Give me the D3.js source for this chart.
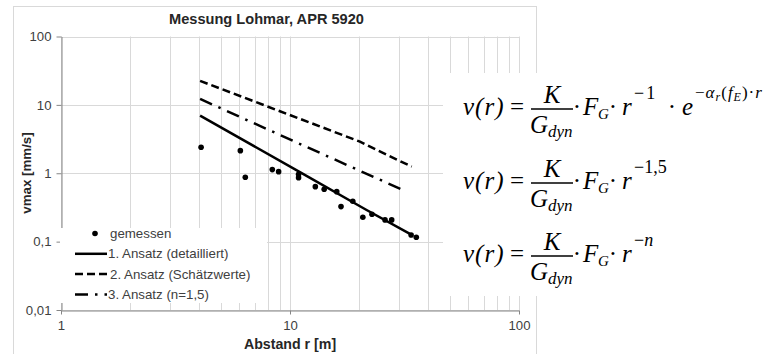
<!DOCTYPE html>
<html>
<head>
<meta charset="utf-8">
<script src="https://cdn.jsdelivr.net/npm/d3@7/dist/d3.min.js"></script>
<style>
  body { margin: 0; background: #fff; }
  svg { display: block; font-family: "Liberation Sans", Arial, sans-serif; }
</style>
</head>
<body>
<svg id="chart" width="766" height="354"></svg>
<script>
// gemessene Werte (Abstand r [m], vmax [mm/s])
const messAbstand = [4.09, 6.07, 6.38, 8.37, 8.92, 10.9, 10.9, 12.9, 14.1, 16.0, 16.7, 18.8, 20.8, 22.8, 26.0, 27.8, 33.8, 35.6];
const messWert = [2.40, 2.14, 0.874, 1.13, 1.055, 0.967, 0.862, 0.637, 0.583, 0.538, 0.325, 0.390, 0.227, 0.252, 0.208, 0.208, 0.125, 0.116];

// 1. Ansatz (detailliert)
const ansatz1Abstand = [4.05, 11, 21.6, 33.4];
const ansatz1Wert = [6.95, 1.05, 0.29, 0.130];

// 2. Ansatz (Schätzwerte)
const ansatz2Abstand = [4.05, 8.75, 20.2, 23.9, 34.0];
const ansatz2Wert = [22.4, 8.42, 2.90, 2.19, 1.25];

// 3. Ansatz (n=1,5)
const ansatz3Abstand = [4.05, 10.87, 31.8];
const ansatz3Wert = [12.2, 2.75, 0.55];

const xTicks = [1, 10, 100];
const yTicks = [0.01, 0.1, 1, 10, 100];
const yTickLabels = ['0,01', '0,1', '1', '10', '100'];

const legendLabels = ['gemessen', '1. Ansatz (detailliert)', '2. Ansatz (Schätzwerte)', '3. Ansatz (n=1,5)'];

const svg = d3.select('#chart');

// Diagrammrahmen
svg.append('rect')
  .attr('x', 13.5).attr('y', 6.5)
  .attr('width', 523).attr('height', 360)
  .attr('fill', '#fff')
  .attr('stroke', '#d9d9d9');

const x = d3.scaleLog().domain([1, 100]).range([61, 519]);
const y = d3.scaleLog().domain([0.01, 100]).range([310, 36.5]);

const grid = svg.append('g').attr('stroke', '#d9d9d9').attr('stroke-width', 1);

grid.selectAll('.vgrid')
  .data(x.ticks())
  .enter()
  .append('line')
  .attr('x1', (d) => Math.round(x(d)) + 0.5)
  .attr('x2', (d) => Math.round(x(d)) + 0.5)
  .attr('y1', y(100))
  .attr('y2', y(0.01));

grid.selectAll('.hgrid')
  .data(yTicks)
  .enter()
  .append('line')
  .attr('x1', x(1))
  .attr('x2', x(100))
  .attr('y1', (d) => Math.round(y(d)) + 0.5)
  .attr('y2', (d) => Math.round(y(d)) + 0.5);

// Achsen
const xAxis = svg.append('g')
  .attr('transform', `translate(0,${Math.round(y(0.01)) + 0.5})`)
  .call(d3.axisBottom(x).tickValues(xTicks).tickFormat(d3.format('d')).tickSize(4).tickSizeOuter(0).tickPadding(6));

const yAxis = svg.append('g')
  .attr('transform', `translate(${Math.round(x(1)) + 0.5},0)`)
  .call(d3.axisLeft(y).tickValues(yTicks).tickFormat((d, i) => yTickLabels[i]).tickSize(5).tickSizeOuter(0).tickPadding(5));

[xAxis, yAxis].forEach((a) => {
  a.select('.domain').attr('stroke', '#868686');
  a.selectAll('.tick line').attr('stroke', '#868686');
  a.selectAll('.tick text')
    .attr('fill', '#404040')
    .style('font-size', '13.2px')
    .style('font-family', '"Liberation Sans", Arial, sans-serif');
});

// Kurven
const line = d3.line()
  .x((d) => x(d[0]))
  .y((d) => y(d[1]));

const zip = (a, b) => a.map((v, i) => [v, b[i]]);

svg.append('path')
  .datum(zip(ansatz2Abstand, ansatz2Wert))
  .attr('fill', 'none')
  .attr('stroke', '#000')
  .attr('stroke-width', 2.5)
  .attr('stroke-dasharray', '8,4')
  .attr('d', line);

svg.append('path')
  .datum(zip(ansatz3Abstand, ansatz3Wert))
  .attr('fill', 'none')
  .attr('stroke', '#000')
  .attr('stroke-width', 2.5)
  .attr('stroke-dasharray', '13,7,2.5,7')
  .attr('d', line);

svg.append('path')
  .datum(zip(ansatz1Abstand, ansatz1Wert))
  .attr('fill', 'none')
  .attr('stroke', '#000')
  .attr('stroke-width', 2.5)
  .attr('d', line);

svg.selectAll('.punkt')
  .data(zip(messAbstand, messWert))
  .enter()
  .append('circle')
  .attr('cx', (d) => x(d[0]))
  .attr('cy', (d) => y(d[1]))
  .attr('r', 2.8)
  .attr('fill', '#000');

// Legende
const legend = svg.append('g');
legend.append('rect')
  .attr('x', 60).attr('y', 228)
  .attr('width', 207).attr('height', 75)
  .attr('fill', '#fff');

const legendStyles = [null, null, '8,4', '13,7,2.5,7'];
legendLabels.forEach((label, i) => {
  const ly = 233.5 + i * 20.3;
  if (i === 0) {
    legend.append('circle').attr('cx', 95).attr('cy', ly).attr('r', 2.8).attr('fill', '#000');
  } else {
    legend.append('line')
      .attr('x1', 75).attr('x2', 107)
      .attr('y1', ly).attr('y2', ly)
      .attr('stroke', '#000')
      .attr('stroke-width', 2.5)
      .attr('stroke-dasharray', legendStyles[i]);
  }
  legend.append('text')
    .attr('x', i === 0 || i === 2 ? 110 : 108)
    .attr('y', ly)
    .attr('dy', '0.35em')
    .attr('fill', '#404040')
    .style('font-size', '13.3px')
    .text(label);
});

// Titel
svg.append('text')
  .attr('x', 266.5).attr('y', 23.5)
  .attr('text-anchor', 'middle')
  .attr('fill', '#262626')
  .style('font-size', '14.6px')
  .style('font-weight', 'bold')
  .text('Messung Lohmar, APR 5920');

svg.append('text')
  .attr('x', 290).attr('y', 349)
  .attr('text-anchor', 'middle')
  .attr('fill', '#262626')
  .style('font-size', '14.2px')
  .style('font-weight', 'bold')
  .text('Abstand r [m]');

svg.append('text')
  .attr('transform', 'translate(31,173) rotate(-90)')
  .attr('text-anchor', 'middle')
  .attr('fill', '#262626')
  .style('font-size', '13.3px')
  .style('font-weight', 'bold')
  .text('vmax [mm/s]');

// Formeln
svg.append('rect')
  .attr('x', 443).attr('y', 73)
  .attr('width', 323).attr('height', 223)
  .attr('fill', '#fff');

const formeln = svg.append('g')
  .style('font-family', '"Liberation Serif", "Times New Roman", serif')
  .attr('fill', '#000');

function txt(g, xPos, yPos, s, size, italic, anchor) {
  return g.append('text')
    .attr('x', xPos).attr('y', yPos)
    .attr('text-anchor', anchor || 'start')
    .style('font-size', size + 'px')
    .style('font-style', italic ? 'italic' : 'normal')
    .text(s);
}

const eqBase = [115, 189, 262];
const eqExp = ['−1', '−1,5', '−n'];

eqBase.forEach((b, i) => {
  const g = formeln.append('g');
  txt(g, 463, b, 'v(r)', 25, true).style('letter-spacing', '1px');
  txt(g, 510, b, '=', 25, false);
  txt(g, 552, b - 12, 'K', 25, true, 'middle');
  g.append('line')
    .attr('x1', 531).attr('x2', 573)
    .attr('y1', b - 6).attr('y2', b - 6)
    .attr('stroke', '#000').attr('stroke-width', 1.3);
  txt(g, 530, b + 18, 'G', 25, true);
  txt(g, 548, b + 22, 'dyn', 17, true);
  txt(g, 577, b, '·', 25, false, 'middle');
  txt(g, 583, b, 'F', 25, true);
  txt(g, 598, b + 4, 'G', 15, true);
  txt(g, 613, b, '·', 25, false, 'middle');
  txt(g, 622, b, 'r', 25, true);
  if (i === 2) {
    const t = txt(g, 634, b - 16, '−', 18, false);
    t.append('tspan').style('font-style', 'italic').text('n');
  } else {
    txt(g, 634, b - 16, eqExp[i], 18, false).style('letter-spacing', i === 0 ? '2px' : '0px');
  }
  if (i === 0) {
    txt(g, 672, b, '·', 25, false, 'middle');
    txt(g, 682, b, 'e', 25, true);
    const t = txt(g, 695, b - 17, '−', 17, false).style('letter-spacing', '1px');
    t.append('tspan').style('font-style', 'italic').text('α');
    t.append('tspan').style('font-style', 'italic').style('font-size', '12px').attr('dy', 3).text('r');
    t.append('tspan').attr('dy', -3).text('(');
    t.append('tspan').style('font-style', 'italic').text('f');
    t.append('tspan').style('font-style', 'italic').style('font-size', '12px').attr('dy', 3).text('E');
    t.append('tspan').attr('dy', -3).text(')·');
    t.append('tspan').style('font-style', 'italic').text('r');
  }
});
</script>
</body>
</html>
